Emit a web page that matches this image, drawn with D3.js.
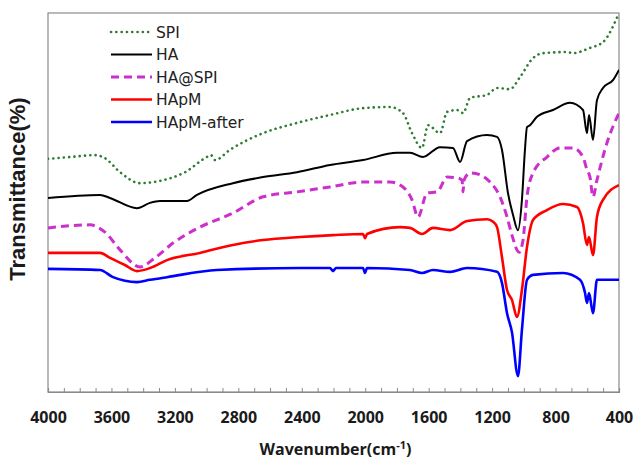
<!DOCTYPE html>
<html>
<head>
<meta charset="utf-8">
<script src="https://cdn.jsdelivr.net/npm/d3@7/dist/d3.min.js"></script>
<style>
  html, body { margin: 0; padding: 0; background: #fff; }
  svg { display: block; }
</style>
</head>
<body>
<svg id="chart" width="633" height="462"></svg>
<script>
// ---- Data (wavenumber in cm^-1, transmittance in arbitrary %, offset traces) ----
const seriesNames = ["SPI", "HA", "HA@SPI", "HApM", "HApM-after"];

const spiWave = [4000,3861,3704,3641,3546,3420,3294,3136,2998,2972,2947,2853,2644,2430,2222,2014,1844,1762,1705,1642,1604,1528,1484,1421,1383,1339,1232,1169,1087,1024,942,879,728,690,583,501,400];
const spiVal  = [61.5,62.0,62.5,61.7,58.0,55.1,55.7,58.0,62.0,62.5,61.2,63.9,68.3,71.0,73.1,74.9,75.2,73.6,68.3,64.4,70.4,68.3,73.9,74.4,73.6,77.6,78.4,80.2,79.9,83.1,88.1,89.4,89.7,89.4,90.8,92.3,100];

const haWave = [4000,3672,3609,3439,3357,3294,3124,3061,2834,2644,2430,2222,2014,1800,1718,1636,1529,1447,1402,1358,1232,1169,1138,1100,1068,1037,1012,993,980,961,917,816,709,627,602,589,564,539,501,438,400];
const haVal  = [51.2,52.0,51.2,48.5,49.9,50.4,50.4,52.0,55.1,56.7,58.0,59.9,61.2,63.1,63.1,62.0,64.6,64.4,60.7,66.2,67.8,67.3,63.9,52.5,46.7,42.7,50.7,63.9,69.9,70.4,72.6,74.4,76.3,74.4,68.3,73.1,66.5,77.0,80.2,82.3,85.0];

const haspiWave = [4000,3734,3689,3641,3546,3420,3325,3212,3042,2834,2644,2430,2222,2014,1844,1762,1705,1667,1610,1547,1484,1421,1390,1383,1377,1339,1276,1213,1150,1106,1075,1030,1005,980,942,854,772,690,627,602,583,564,539,476,400];
const haspiVal  = [43.3,44.1,43.5,42.2,37.5,33.0,35.4,39.3,43.5,47.2,51.5,52.8,54.1,55.4,55.4,54.1,50.7,46.2,52.5,52.8,56.7,56.5,55.9,52.8,55.9,57.8,57.3,55.4,51.5,46.2,41.4,36.9,40.1,51.5,57.8,62.0,64.4,64.4,62.0,58.6,56.7,51.5,55.9,65.7,73.6];

const hapmWave = [4000,3672,3609,3515,3439,3357,3250,3042,2834,2644,2411,2203,2014,2001,1989,1781,1718,1642,1573,1465,1358,1232,1194,1169,1138,1106,1075,1043,1012,980,942,854,753,665,627,602,589,564,539,501,400];
const hapmVal  = [36.7,36.7,35.4,33.5,31.9,32.7,34.8,36.7,38.8,40.1,40.9,41.4,41.7,40.6,41.7,43.5,43.3,41.7,43.3,42.7,45.1,45.6,44.9,43.5,35.6,26.9,24.3,19.8,26.9,38.3,45.4,48.0,49.6,48.8,44.6,38.8,40.9,36.1,46.2,50.7,54.6];

const afterWave = [4000,3672,3590,3439,3357,3250,2935,2411,2222,2203,2184,2014,2001,1989,1718,1642,1573,1465,1358,1169,1138,1106,1075,1037,1012,980,942,753,646,614,602,589,564,539,400];
const afterVal  = [32.5,32.2,30.3,29.0,29.6,30.3,32.2,32.7,32.7,31.9,32.7,32.7,31.4,32.7,32.2,31.4,32.2,31.7,32.7,31.7,28.8,20.8,15.8,4.2,16.4,29.6,30.9,31.4,29.6,26.1,23.5,26.1,20.8,29.6,29.6];

const xTicks = [4000,3600,3200,2800,2400,2000,1600,1200,800,400];
const xMinorTicks = d3.range(4000, 399, -100);

// ---- Styles ----
const styles = [
  {color: "#2f7d32", width: 2.6, dash: "0.1 5.2", cap: "round"},
  {color: "#000000", width: 2.0, dash: null, cap: "butt"},
  {color: "#cc2fcc", width: 3.0, dash: "8 5", cap: "butt"},
  {color: "#ff0000", width: 2.6, dash: null, cap: "butt"},
  {color: "#0000ff", width: 2.6, dash: null, cap: "butt"}
];

const waves = [spiWave, haWave, haspiWave, hapmWave, afterWave];
const vals  = [spiVal, haVal, haspiVal, hapmVal, afterVal];

const svg = d3.select("#chart");
const margin = {left: 48, top: 13, right: 633 - 619, bottom: 462 - 392};
const W = 633, H = 462;

const x = d3.scaleLinear().domain([4000, 400]).range([margin.left, W - margin.right]);
const y = d3.scaleLinear().domain([0, 100]).range([H - margin.bottom, margin.top]);

// frame
svg.append("rect")
  .attr("x", x(4000)).attr("y", y(100))
  .attr("width", x(400) - x(4000)).attr("height", y(0) - y(100))
  .attr("fill", "none").attr("stroke", "#8a8a8a").attr("stroke-width", 1.2);

// minor ticks (inward)
const xAxisMinor = d3.axisBottom(x).tickValues(xMinorTicks).tickSize(-4).tickFormat("");
const gMinor = svg.append("g").attr("transform", `translate(0,${y(0)})`).call(xAxisMinor);
gMinor.select(".domain").attr("stroke", "#8a8a8a").attr("stroke-width", 1.2);
gMinor.selectAll(".tick line").attr("stroke", "#8a8a8a").attr("stroke-width", 1);

// labels
const xAxis = d3.axisBottom(x).tickValues(xTicks).tickSize(0).tickPadding(20).tickFormat(d3.format("d"));
const gx = svg.append("g").attr("transform", `translate(0,${y(0)})`).call(xAxis);
gx.select(".domain").remove();
gx.selectAll(".tick text")
  .attr("font-family", "'Open Sans', sans-serif")
  .attr("font-weight", "bold")
  .attr("font-size", "16px")
  .attr("fill", "#1a1a1a");

// clip
svg.append("clipPath").attr("id", "clip").append("rect")
  .attr("x", x(4000)).attr("y", y(100) - 2)
  .attr("width", x(400) - x(4000)).attr("height", y(0) - y(100) + 2);

const line = d3.line()
  .x(d => x(d[0])).y(d => y(d[1]))
  .curve(d3.curveMonotoneX);

const plot = svg.append("g").attr("clip-path", "url(#clip)");
// draw order: blue, red, magenta, black, green
[4, 3, 2, 1, 0].forEach(i => {
  const pts = waves[i].map((w, k) => [w, vals[i][k]]);
  const s = styles[i];
  plot.append("path")
    .datum(pts)
    .attr("d", line)
    .attr("fill", "none")
    .attr("stroke", s.color)
    .attr("stroke-width", s.width)
    .attr("stroke-linecap", s.cap)
    .attr("stroke-linejoin", "round")
    .attr("stroke-dasharray", s.dash);
});

// legend
const legend = svg.append("g");
seriesNames.forEach((name, i) => {
  const ly = 32 + i * 22.5;
  const s = styles[i];
  legend.append("line")
    .attr("x1", 111).attr("x2", 152).attr("y1", ly).attr("y2", ly)
    .attr("stroke", s.color).attr("stroke-width", s.width)
    .attr("stroke-linecap", s.cap)
    .attr("stroke-dasharray", s.dash);
  legend.append("text")
    .attr("x", 156).attr("y", ly).attr("dy", "0.36em")
    .attr("font-family", "'DejaVu Sans', sans-serif")
    .attr("font-size", "15.5px")
    .attr("fill", "#222")
    .text(name);
});

// axis titles
const xt = svg.append("text")
  .attr("x", (x(4000) + x(400)) / 2 + 2).attr("y", 455)
  .attr("text-anchor", "middle")
  .attr("font-family", "'Open Sans', sans-serif")
  .attr("font-weight", "bold")
  .attr("font-size", "16px")
  .attr("fill", "#1a1a1a");
xt.append("tspan").text("Wavenumber(cm");
xt.append("tspan").attr("dy", "-6").attr("font-size", "11px").text("-1");
xt.append("tspan").attr("dy", "6").text(")");

svg.append("text")
  .attr("transform", "translate(25,189) rotate(-90)")
  .attr("text-anchor", "middle")
  .attr("font-family", "'Liberation Sans', Arial, sans-serif")
  .attr("font-weight", "bold")
  .attr("font-size", "22px")
  .attr("fill", "#1a1a1a")
  .text("Transmittance(%)");
</script>
</body>
</html>
